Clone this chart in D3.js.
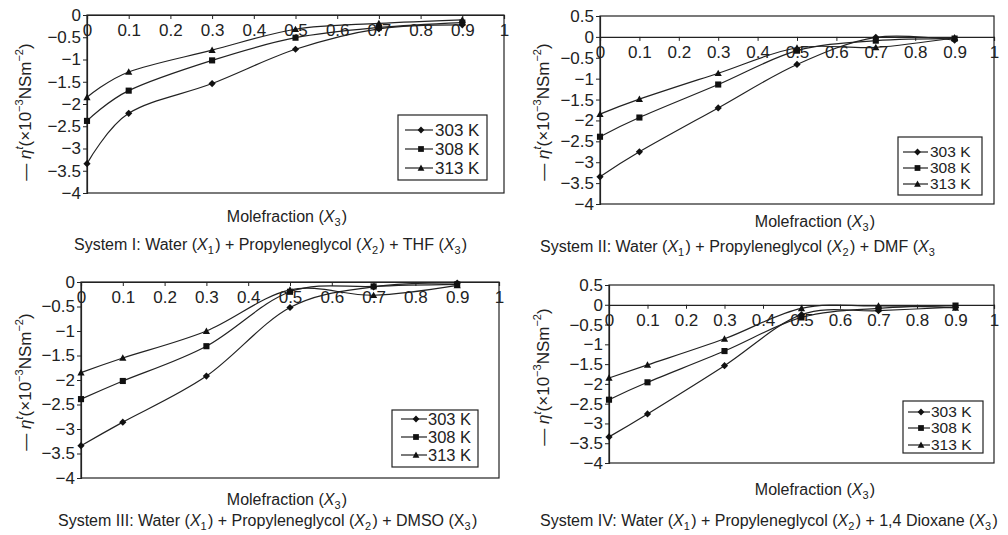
<!DOCTYPE html>
<html>
<head>
<meta charset="utf-8">
<script src="https://cdn.jsdelivr.net/npm/d3@7"></script>
<style>
body { margin: 0; background: #fff; }
svg, svg text { font-family: "Liberation Sans", Arial, sans-serif; }
</style>
</head>
<body>
<script>
// mole fractions of X3 and the three temperatures
var xVals = [0, 0.1, 0.3, 0.5, 0.7, 0.9];
var temps = ["303 K", "308 K", "313 K"];

// System I: THF
var thf303 = [-3.34, -2.21, -1.54, -0.77, -0.31, -0.22];
var thf308 = [-2.38, -1.70, -1.02, -0.51, -0.28, -0.17];
var thf313 = [-1.85, -1.28, -0.79, -0.32, -0.19, -0.11];
// System II: DMF
var dmf303 = [-3.35, -2.75, -1.70, -0.66, -0.01, -0.08];
var dmf308 = [-2.39, -1.93, -1.14, -0.33, -0.09, -0.04];
var dmf313 = [-1.85, -1.49, -0.87, -0.26, -0.25, -0.02];
// System III: DMSO
var dmso303 = [-3.34, -2.86, -1.92, -0.52, -0.10, -0.02];
var dmso308 = [-2.39, -2.02, -1.31, -0.20, -0.09, -0.05];
var dmso313 = [-1.85, -1.55, -1.00, -0.16, -0.27, -0.07];
// System IV: 1,4 Dioxane
var dio303 = [-3.34, -2.76, -1.54, -0.25, -0.15, -0.06];
var dio308 = [-2.40, -1.96, -1.17, -0.32, -0.09, -0.02];
var dio313 = [-1.85, -1.52, -0.86, -0.09, -0.03, -0.08];

var xTicks = [0, 0.1, 0.2, 0.3, 0.4, 0.5, 0.6, 0.7, 0.8, 0.9, 1];
var yTicksA = [0, -0.5, -1, -1.5, -2, -2.5, -3, -3.5, -4];
var yTicksB = [0.5, 0, -0.5, -1, -1.5, -2, -2.5, -3, -3.5, -4];

var width = 1008;
var height = 535;
var font = "'Liberation Sans', Arial, sans-serif";

var svg = d3.select("body")
  .append("svg")
  .attr("width", width)
  .attr("height", height)
  .attr("font-family", font);

// marker shapes (size = half width)
var diamond = { draw: function(c, s) { c.moveTo(0, -s); c.lineTo(s, 0); c.lineTo(0, s); c.lineTo(-s, 0); c.closePath(); } };
var square = { draw: function(c, s) { c.rect(-s * 0.85, -s * 0.85, s * 1.7, s * 1.7); } };
var triangle = { draw: function(c, s) { c.moveTo(0, -s); c.lineTo(s, s * 0.8); c.lineTo(-s, s * 0.8); c.closePath(); } };
var shapes = [diamond, square, triangle];

var fmt = function(d) { return (d < 0 ? "\u2212" : "") + Math.abs(d); };

var panels = [
  { x0: 87, x1: 504, top: 15, bot: 193, ymax: 0, yTicks: yTicksA,
    series: [thf303, thf308, thf313],
    leg: { x: 398, y: 115, w: 89, h: 65, rows: [130, 149, 168], l0: 405, l1: 433, tx: 435, fs: 17 },
    tX: 25, tY: 112, mX: 287, mY: 222, cX: 74, cY: 250,
    cap: ["System I: Water (", "X1", ") + Propyleneglycol (", "X2", ") + THF (", "X3", ")"] },
  { x0: 600, x1: 994, top: 16, bot: 204, ymax: 0.5, yTicks: yTicksB,
    series: [dmf303, dmf308, dmf313],
    leg: { x: 898, y: 137, w: 84, h: 58, rows: [152, 168, 184], l0: 903, l1: 928, tx: 930, fs: 15.5 },
    tX: 543, tY: 112, mX: 815, mY: 227, cX: 540, cY: 252,
    cap: ["System II: Water (", "X1", ") + Propyleneglycol (", "X2", ") + DMF (", "X3"] },
  { x0: 81, x1: 499, top: 282, bot: 478, ymax: 0, yTicks: yTicksA,
    series: [dmso303, dmso308, dmso313],
    leg: { x: 392, y: 410, w: 86, h: 57, rows: [419, 437, 455], l0: 401, l1: 427, tx: 428, fs: 16.5 },
    tX: 25, tY: 382, mX: 287, mY: 505, cX: 58, cY: 526,
    cap: ["System III: Water (", "X1", ") + Propyleneglycol (", "X2", ") + DMSO (", "x3", ")"] },
  { x0: 609, x1: 994, top: 285, bot: 463, ymax: 0.5, yTicks: yTicksB,
    series: [dio303, dio308, dio313],
    leg: { x: 903, y: 401, w: 80, h: 52, rows: [412, 428, 445], l0: 908, l1: 930, tx: 931, fs: 15.5 },
    tX: 543, tY: 377, mX: 815, mY: 495, cX: 540, cY: 526,
    cap: ["System IV: Water (", "X1", ") + Propyleneglycol (", "X2", ") + 1,4 Dioxane (", "X3", ")"] }
];

// writes text pieces; "X1" style pieces become italic X with subscript, "x3" upright X
function richText(sel, parts) {
  parts.forEach(function(p) {
    if (/^[Xx]\d$/.test(p)) {
      sel.append("tspan").style("font-style", p[0] == "X" ? "italic" : "normal").text("X");
      sel.append("tspan").attr("dy", 4).style("font-size", "11px").text(p[1]);
      sel.append("tspan").attr("dy", -4).text("\u200a");
    } else {
      sel.append("tspan").text(p);
    }
  });
}

panels.forEach(function(p) {
  var g = svg.append("g");

  var xscale = d3.scaleLinear().domain([0, 1]).range([p.x0, p.x1]);
  var yscale = d3.scaleLinear().domain([-4, p.ymax]).range([p.bot, p.top]);

  // frame
  g.append("rect")
    .attr("x", p.x0).attr("y", p.top)
    .attr("width", p.x1 - p.x0).attr("height", p.bot - p.top)
    .attr("fill", "none").attr("stroke", "#222").attr("stroke-width", 1.2);

  var yAxis = d3.axisLeft(yscale).tickValues(p.yTicks).tickFormat(fmt).tickSize(4).tickPadding(2);
  var ya = g.append("g").attr("transform", "translate(" + p.x0 + ",0)").call(yAxis);

  var xAxis = d3.axisBottom(xscale).tickValues(xTicks).tickFormat(fmt).tickSize(4).tickPadding(5);
  var xa = g.append("g").attr("transform", "translate(0," + yscale(0) + ")").call(xAxis);

  [ya, xa].forEach(function(a) {
    a.attr("font-family", font).attr("font-size", 17);
    a.selectAll("text").attr("fill", "#222");
    a.selectAll("line").attr("stroke", "#222");
    a.select(".domain").attr("stroke", "#222").attr("stroke-width", 1.2);
  });

  var line = d3.line()
    .x(function(d, i) { return xscale(xVals[i]); })
    .y(function(d) { return yscale(d); })
    .curve(d3.curveCardinal.tension(0));

  p.series.forEach(function(s, k) {
    g.append("path")
      .attr("d", line(s))
      .attr("fill", "none")
      .attr("stroke", "#222")
      .attr("stroke-width", 1.2);

    g.selectAll(".m" + k)
      .data(s)
      .enter()
      .append("path")
      .attr("class", "m" + k)
      .attr("transform", function(d, i) { return "translate(" + xscale(xVals[i]) + "," + yscale(d) + ")"; })
      .attr("d", d3.symbol().type(shapes[k]).size(3.6))
      .attr("fill", "#111");
  });

  // legend
  var L = p.leg;
  g.append("rect")
    .attr("x", L.x).attr("y", L.y).attr("width", L.w).attr("height", L.h)
    .attr("fill", "#fff").attr("stroke", "#222").attr("stroke-width", 1.2);
  temps.forEach(function(t, k) {
    g.append("line")
      .attr("x1", L.l0).attr("x2", L.l1).attr("y1", L.rows[k]).attr("y2", L.rows[k])
      .attr("stroke", "#222").attr("stroke-width", 1.2);
    g.append("path")
      .attr("transform", "translate(" + ((L.l0 + L.l1) / 2 + 2) + "," + L.rows[k] + ")")
      .attr("d", d3.symbol().type(shapes[k]).size(3.4))
      .attr("fill", "#111");
    g.append("text")
      .attr("x", L.tx).attr("y", L.rows[k] + L.fs * 0.35)
      .style("font-size", L.fs + "px").attr("fill", "#222")
      .text(t);
  });

  // y title
  var yt = g.append("text")
    .attr("transform", "translate(" + p.tX + "," + p.tY + ") rotate(-90)")
    .attr("text-anchor", "middle")
    .attr("dy", "0.35em")
    .style("font-size", "17px").attr("fill", "#222");
  yt.append("tspan").text("\u2014 ");
  yt.append("tspan").style("font-style", "italic").text("\u03b7");
  yt.append("tspan").attr("dy", -8).style("font-size", "11px").style("font-style", "italic").text("t");
  yt.append("tspan").attr("dy", 8).text("(\u00d710");
  yt.append("tspan").attr("dy", -8).style("font-size", "11px").text("\u22123");
  yt.append("tspan").attr("dy", 8).text("NSm");
  yt.append("tspan").attr("dy", -8).style("font-size", "11px").text("\u22122");
  yt.append("tspan").attr("dy", 8).text(")");

  // x title
  var mt = g.append("text")
    .attr("x", p.mX).attr("y", p.mY)
    .attr("text-anchor", "middle")
    .style("font-size", "16px").attr("fill", "#222");
  richText(mt, ["Molefraction (", "X3", ")"]);

  // caption
  var ct = g.append("text")
    .attr("x", p.cX).attr("y", p.cY)
    .style("font-size", "16px").attr("fill", "#222");
  richText(ct, p.cap);
});
</script>
</body>
</html>
